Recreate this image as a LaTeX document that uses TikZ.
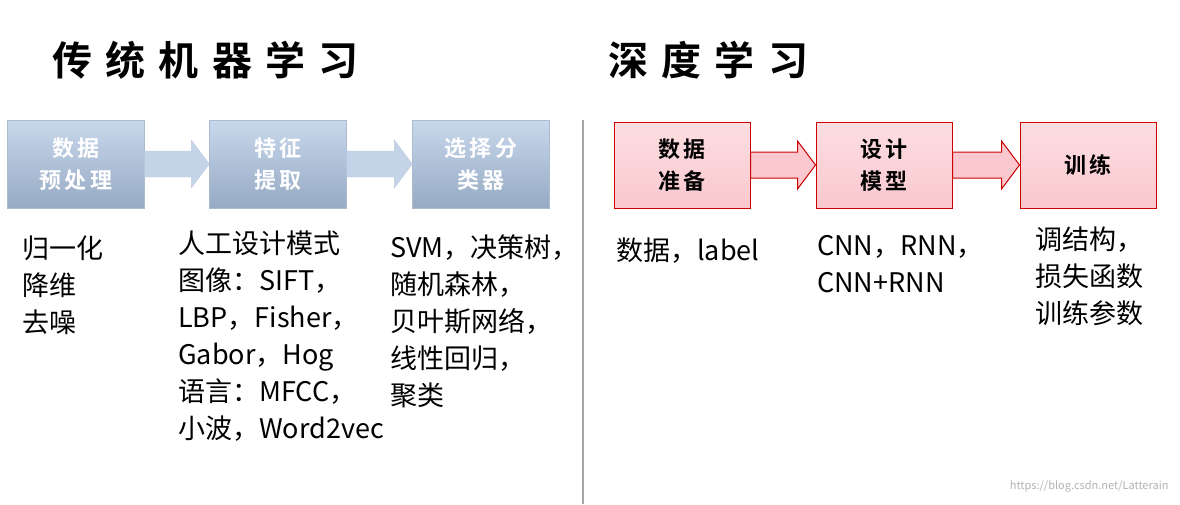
\documentclass[tikz,border=0pt]{standalone}
\usepackage{fontspec}
\setmainfont{Noto Sans CJK SC}
\newfontfamily\cjkb{Noto Sans CJK SC Bold}
\usetikzlibrary{calc}
\definecolor{bluetop}{RGB}{200,216,236}
\definecolor{bluebot}{RGB}{150,170,196}
\definecolor{redtop}{RGB}{250,200,206}
\tikzset{
 bbox/.style={minimum width=137pt,minimum height=88pt,top color=bluetop,bottom color=bluebot,draw=bluebot!80,text=white,font=\cjkb\fontsize{22}{32}\selectfont,align=center},
 rbox/.style={minimum width=136pt,minimum height=86pt,top color=redtop!60,bottom color=redtop,draw=red!80!black,line width=1pt,text=black,font=\cjkb\fontsize{22}{32}\selectfont,align=center},
 barrow/.style={fill=bluetop!90!bluebot,draw=bluebot!60},
 rarrow/.style={fill=redtop,draw=red!80!black,line width=1pt},
 lst/.style={anchor=north west,align=left,font=\fontsize{27}{37}\selectfont,inner sep=0pt},
 ttl/.style={anchor=west,font=\cjkb\fontsize{40}{44}\selectfont,inner sep=0pt}
}
\newcommand{\blockarrow}[3]{%
 \draw[#1] ($(#2.east)+(0,-13)$) -- ($(#3.west)+(-18,-13)$) -- ($(#3.west)+(-18,-24)$) -- (#3.west)
  -- ($(#3.west)+(-18,24)$) -- ($(#3.west)+(-18,13)$) -- ($(#2.east)+(0,13)$) -- cycle;}
\begin{document}
\begin{tikzpicture}[x=1pt,y=-1pt]
\useasboundingbox (0,0) rectangle (1180,504);
\node[ttl] (t1) at (52,60) {传\,\,统\,\,机\,\,器\,\,学\,\,习};
\node[ttl] (t2) at (608,60) {深\,\,度\,\,学\,\,习};
\node[bbox] (b1) at (76,164) {数\,据\\预\,处\,理};
\node[bbox] (b2) at (278,164) {特\,征\\提\,取};
\node[bbox] (b3) at (481,164) {选\,择\,分\\类\,器};
\blockarrow{barrow}{b1}{b2}
\blockarrow{barrow}{b2}{b3}
\node[rbox] (r1) at (682,165) {数\,据\\准\,备};
\node[rbox] (r2) at (884,165) {设\,计\\模\,型};
\node[rbox] (r3) at (1088,165) {训\,练};
\blockarrow{rarrow}{r1}{r2}
\blockarrow{rarrow}{r2}{r3}
\coordinate (s1) at (583,120); \coordinate (s2) at (583,504);
\draw[gray!70,line width=2pt] (s1) -- (s2);
\node[lst] (l1) at (22,236) {归一化\\降维\\去噪};
\node[lst] (l2) at (178,231) {人工设计模式\\图像：SIFT，\\LBP，Fisher，\\Gabor，Hog\\语言：MFCC，\\小波，Word2vec};
\node[lst] (l3) at (390,235) {SVM，决策树，\\随机森林，\\贝叶斯网络，\\线性回归，\\聚类};
\node[lst] (l4) at (616,238) {数据，label};
\node[lst] (l5) at (817,235) {CNN，RNN，\\CNN+RNN};
\node[lst] (l6) at (1035,227) {调结构，\\损失函数\\训练参数};
\node[anchor=east,text=gray!60,font=\fontsize{11}{12}\selectfont] (w) at (1172,486) {https://blog.csdn.net/Latterain};
\end{tikzpicture}
\end{document}
